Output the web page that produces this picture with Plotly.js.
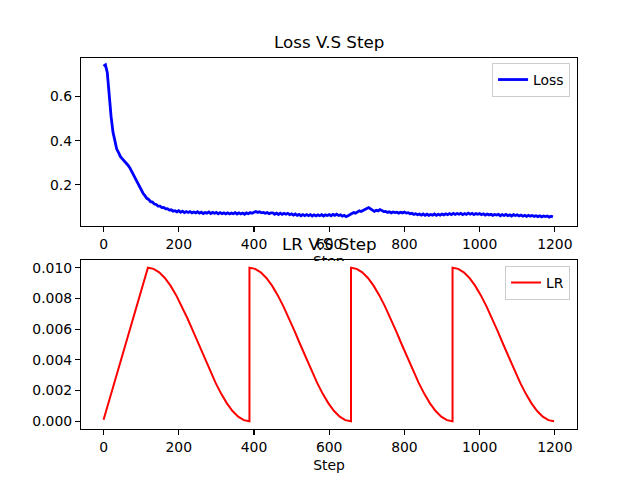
<!DOCTYPE html>
<html>
<head>
<meta charset="utf-8">
<script src="https://cdn.plot.ly/plotly-3.0.1.min.js"></script>
<style>html,body{margin:0;padding:0;background:#fff;}#chart{width:640px;height:480px;}</style>
</head>
<body>
<div id="chart"></div>
<script>
// Loss sampled every 5 steps, starting at step 0
const lossStart = 0;
const lossEvery = 5;
const lossValues = [
  0.738, 0.744, 0.708, 0.600, 0.510, 0.440, 0.398, 0.362, 0.346, 0.328,
  0.318, 0.308, 0.303, 0.289, 0.277, 0.260, 0.247, 0.229, 0.213, 0.194,
  0.180, 0.162, 0.151, 0.139, 0.134, 0.124, 0.122, 0.113, 0.111, 0.104,
  0.104, 0.097, 0.098, 0.091, 0.092, 0.086, 0.087, 0.081, 0.083, 0.078,
  0.083, 0.076, 0.081, 0.074, 0.079, 0.075, 0.079, 0.073, 0.077, 0.073,
  0.078, 0.072, 0.076, 0.070, 0.075, 0.072, 0.077, 0.070, 0.075, 0.071,
  0.075, 0.069, 0.074, 0.069, 0.073, 0.068, 0.073, 0.068, 0.072, 0.069,
  0.074, 0.068, 0.073, 0.068, 0.072, 0.067, 0.073, 0.069, 0.074, 0.071,
  0.076, 0.079, 0.075, 0.078, 0.073, 0.075, 0.071, 0.074, 0.069, 0.073,
  0.073, 0.067, 0.072, 0.066, 0.072, 0.066, 0.071, 0.067, 0.071, 0.065,
  0.069, 0.063, 0.068, 0.062, 0.066, 0.060, 0.065, 0.060, 0.065, 0.060,
  0.065, 0.059, 0.064, 0.059, 0.064, 0.060, 0.065, 0.059, 0.064, 0.061,
  0.065, 0.060, 0.066, 0.062, 0.067, 0.061, 0.064, 0.058, 0.062, 0.056,
  0.060, 0.064, 0.070, 0.075, 0.072, 0.078, 0.082, 0.079, 0.085, 0.088,
  0.093, 0.097, 0.090, 0.084, 0.080, 0.085, 0.082, 0.088, 0.084, 0.079,
  0.080, 0.075, 0.078, 0.073, 0.077, 0.074, 0.076, 0.072, 0.076, 0.073,
  0.077, 0.072, 0.074, 0.069, 0.071, 0.066, 0.069, 0.065, 0.068, 0.063,
  0.068, 0.062, 0.067, 0.062, 0.066, 0.063, 0.068, 0.062, 0.067, 0.063,
  0.068, 0.064, 0.069, 0.065, 0.070, 0.065, 0.071, 0.066, 0.070, 0.067,
  0.071, 0.065, 0.070, 0.066, 0.072, 0.067, 0.071, 0.065, 0.070, 0.067,
  0.070, 0.065, 0.069, 0.063, 0.068, 0.064, 0.067, 0.062, 0.066, 0.063,
  0.066, 0.060, 0.065, 0.061, 0.066, 0.060, 0.064, 0.059, 0.065, 0.061,
  0.064, 0.059, 0.063, 0.058, 0.062, 0.057, 0.062, 0.058, 0.061, 0.057,
  0.060, 0.056, 0.060, 0.055, 0.059, 0.056, 0.059, 0.054, 0.058, 0.055
];

// Learning rate: linear warmup then cosine cycles with restarts
const lrSteps = [
  0,
  118, 133, 148, 163, 178, 193, 208, 223, 238, 253, 268, 283, 298, 313, 328, 343, 358, 373, 388,
  388, 403, 418, 433, 448, 463, 478, 493, 508, 523, 538, 553, 568, 583, 598, 613, 628, 643, 658,
  658, 673, 688, 703, 718, 733, 748, 763, 778, 793, 808, 823, 838, 853, 868, 883, 898, 913, 928,
  928, 943, 958, 973, 988, 1003, 1018, 1033, 1048, 1063, 1078, 1093, 1108, 1123, 1138, 1153, 1168, 1183, 1198
];
const lrValues = [
  0.0001,
  0.01, 0.009924, 0.009698, 0.00933, 0.00883, 0.008214, 0.0075, 0.00671, 0.005868, 0.005, 0.004132, 0.00329, 0.0025, 0.001786, 0.00117, 0.00067, 0.000302, 0.000076, 0.0,
  0.01, 0.009924, 0.009698, 0.00933, 0.00883, 0.008214, 0.0075, 0.00671, 0.005868, 0.005, 0.004132, 0.00329, 0.0025, 0.001786, 0.00117, 0.00067, 0.000302, 0.000076, 0.0,
  0.01, 0.009924, 0.009698, 0.00933, 0.00883, 0.008214, 0.0075, 0.00671, 0.005868, 0.005, 0.004132, 0.00329, 0.0025, 0.001786, 0.00117, 0.00067, 0.000302, 0.000076, 0.0,
  0.01, 0.009924, 0.009698, 0.00933, 0.00883, 0.008214, 0.0075, 0.00671, 0.005868, 0.005, 0.004132, 0.00329, 0.0025, 0.001786, 0.00117, 0.00067, 0.000302, 0.000076, 0.0
];

const xTickVals = [0, 200, 400, 600, 800, 1000, 1200];
const lossTickVals = [0.2, 0.4, 0.6];
const lossTickText = ["0.2", "0.4", "0.6"];
const lrTickVals = [0.0, 0.002, 0.004, 0.006, 0.008, 0.010];
const lrTickText = ["0.000", "0.002", "0.004", "0.006", "0.008", "0.010"];

const FONT = "DejaVu Sans, sans-serif";
const tickFont = {family: FONT, size: 13.9, color: "#000"};

const axisCommon = {
  showline: true, mirror: true, linecolor: "#000", linewidth: 1.1,
  ticks: "outside", ticklen: 5, tickwidth: 1.1, tickcolor: "#000",
  showgrid: false, zeroline: false, tickfont: tickFont, automargin: false
};

const traces = [
  {
    type: "scatter", mode: "lines", name: "Loss",
    x0: lossStart, dx: lossEvery, y: lossValues,
    line: {color: "#0000ff", width: 2.8},
    xaxis: "x", yaxis: "y", legend: "legend"
  },
  {
    type: "scatter", mode: "lines", name: "LR",
    x: lrSteps, y: lrValues,
    line: {color: "#ff0000", width: 2},
    xaxis: "x2", yaxis: "y2", legend: "legend2"
  }
];

const legendCommon = {
  bgcolor: "rgba(255,255,255,0.8)", bordercolor: "#cccccc", borderwidth: 1,
  font: {family: FONT, size: 13.9, color: "#000"},
  xref: "paper", yref: "paper", xanchor: "right", yanchor: "top",
  itemwidth: 30, tracegroupgap: 0
};

const layout = {
  width: 640, height: 480,
  paper_bgcolor: "#fff", plot_bgcolor: "#fff",
  margin: {l: 81, r: 63, t: 58, b: 51, pad: 0},
  showlegend: true,
  xaxis: Object.assign({}, axisCommon, {
    domain: [0, 1], anchor: "y", range: [-59.95, 1258.95],
    tickmode: "array", tickvals: xTickVals
  }),
  yaxis: Object.assign({}, axisCommon, {
    domain: [0.5472, 1], anchor: "x", range: [0.0136, 0.775],
    tickmode: "array", tickvals: lossTickVals, ticktext: lossTickText
  }),
  xaxis2: Object.assign({}, axisCommon, {
    domain: [0, 1], anchor: "y2", range: [-59.95, 1258.95],
    tickmode: "array", tickvals: xTickVals,
    title: {text: "Step", font: {family: FONT, size: 13.9, color: "#000"}, standoff: 6}
  }),
  yaxis2: Object.assign({}, axisCommon, {
    domain: [0, 0.4555], anchor: "x2", range: [-0.0005, 0.0105],
    tickmode: "array", tickvals: lrTickVals, ticktext: lrTickText
  }),
  legend: Object.assign({}, legendCommon, {x: 0.986, y: 0.9865}),
  legend2: Object.assign({}, legendCommon, {x: 0.986, y: 0.4394}),
  annotations: [
    {text: "Loss V.S Step", xref: "paper", yref: "paper", x: 0.5, y: 1.0108,
     xanchor: "center", yanchor: "bottom", showarrow: false,
     font: {family: FONT, size: 16.7, color: "#000"}},
    {text: "Step", xref: "paper", yref: "paper", x: 0.5, y: 0.4555,
     xanchor: "center", yanchor: "middle", yshift: -1, showarrow: false,
     font: {family: FONT, size: 13.9, color: "#000"}},
    {text: " ", xref: "paper", yref: "paper", x: 0.497, y: 0.4555,
     xanchor: "center", yanchor: "top", yshift: -1, showarrow: false,
     width: 36, height: 14, bgcolor: "#fff", borderpad: 0, borderwidth: 0},
    {text: "LR V.S Step", xref: "paper", yref: "paper", x: 0.5, y: 0.4663,
     xanchor: "center", yanchor: "bottom", showarrow: false,
     font: {family: FONT, size: 16.7, color: "#000"}}
  ]
};

Plotly.newPlot("chart", traces, layout, {staticPlot: true, displayModeBar: false});
</script>
</body>
</html>
